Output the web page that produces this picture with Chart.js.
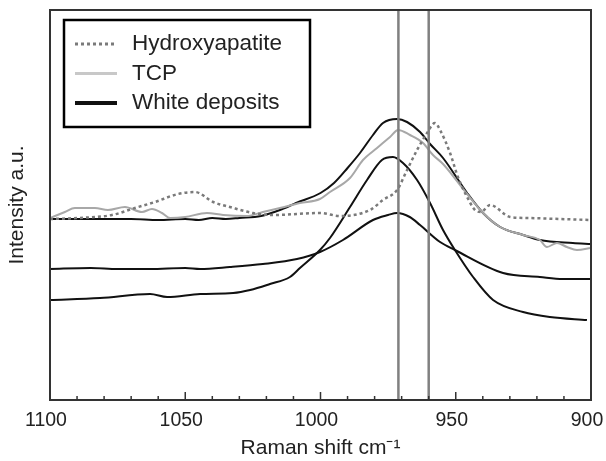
<!DOCTYPE html>
<html>
<head>
<meta charset="utf-8">
<script src="https://cdn.jsdelivr.net/npm/chart.js@4/dist/chart.umd.min.js"></script>
<style>
html,body{margin:0;padding:0;background:#fff;}
#wrap{width:606px;height:461px;}
</style>
</head>
<body>
<div id="wrap"><canvas id="c" width="606" height="461"></canvas></div>
<script>
// Raman shift (cm-1) and intensity (a.u.)
const hapX = [1100, 1089.6, 1077.1, 1068.6, 1061.2, 1052.7, 1046.4, 1039.7, 1033.5, 1025, 1017.6, 1000.2, 992.8, 981.7, 976.9, 971.7, 968, 964.3, 960.6, 957.7, 955.8, 952.1, 949.2, 945.8, 942.9, 940.7, 937.3, 929.9, 923.7, 900];
const hapY = [181, 182, 185, 192, 198, 206, 208, 198, 193, 187, 185, 187, 184, 190, 200, 210, 230, 250, 267, 277, 270, 247, 223, 203, 190, 188, 195, 183, 182, 180];

const tcpX = [1100, 1094.5, 1090.8, 1083.4, 1078.6, 1072.3, 1066, 1062.3, 1058.6, 1055.6, 1050, 1042, 1036, 1027.2, 1021.3, 1015, 1007.6, 1000.2, 996.5, 989.1, 984.3, 979.1, 974.3, 971.3, 966.9, 962.1, 958.4, 954.7, 945.8, 939.9, 933.6, 925.1, 918.9, 916.3, 912.6, 908.9, 905.2, 900];
const tcpY = [182, 188, 192, 192, 190, 193, 188, 191, 187, 182, 183, 187, 185, 184, 188, 192, 197, 201, 208, 222, 240, 252, 263, 270, 265, 257, 245, 236, 206, 187, 173, 165, 160, 153, 157, 153, 150, 152];

const wd1X = [1100, 1090, 1080, 1070, 1060, 1050, 1045, 1040, 1035, 1030, 1022, 1015, 1009, 1000, 995, 990, 985.4, 980.6, 976.9, 971.7, 968, 963.2, 959.5, 954.7, 945.8, 939.9, 933.6, 925.1, 918.9, 906.7, 900];
const wd1Y = [181, 181, 181, 181, 180, 181, 180, 182, 181, 182, 184, 190, 197, 207, 217, 232, 247, 265, 277, 281, 278, 268, 256, 242, 207, 187, 173, 165, 160, 157, 156];

const wd2X = [1100, 1085, 1075, 1063, 1050, 1044.5, 1033.5, 1021.3, 1008.7, 1000.2, 991.7, 980.6, 975, 971.7, 967, 963.2, 955.8, 950.3, 932.5, 918.9, 910.4, 900];
const wd2Y = [131, 132, 131, 131, 132, 131, 133, 136, 141, 148, 160, 180, 185, 187, 183, 175, 158, 150, 127, 123, 121, 121];

const wd3X = [1100, 1081.5, 1063, 1056.7, 1044.5, 1032.3, 1026, 1018.7, 1011.3, 1007.6, 1000.2, 996.5, 989.1, 982.8, 977.3, 973.2, 969.5, 964.3, 959.5, 954.7, 950.3, 943.6, 936.2, 925.1, 915.2, 901.5];
const wd3Y = [100, 102, 106, 103, 106, 107, 110, 116, 123, 132, 150, 162, 193, 220, 240, 243, 237, 220, 197, 170, 150, 123, 100, 88, 83, 80];

const markerX = [971.2, 960];
const xTickLabels = [1100, 1050, 1000, 950, 900];
const seriesNames = ['Hydroxyapatite', 'TCP', 'White deposits'];

const FONT = "'Liberation Sans', Arial, sans-serif";
const pts = (xs, ys) => xs.map((x, i) => ({x: x, y: ys[i]}));

const framePlugin = {
  id: 'frame',
  afterDatasetsDraw(chart) {
    const {ctx, chartArea: a, scales: {x}} = chart;
    ctx.save();
    // marker lines
    ctx.strokeStyle = '#808080';
    ctx.lineWidth = 2.5;
    markerX.forEach(v => {
      const px = x.getPixelForValue(v);
      ctx.beginPath(); ctx.moveTo(px, a.top); ctx.lineTo(px, a.bottom); ctx.stroke();
    });
    // frame
    ctx.strokeStyle = '#333';
    ctx.lineWidth = 2;
    ctx.strokeRect(a.left, a.top, a.right - a.left, a.bottom - a.top);
    // inside ticks
    ctx.lineWidth = 1.5;
    for (let v = x.min; v <= x.max; v += 10) {
      const px = x.getPixelForValue(v);
      const len = (v % 50 === 0) ? 8 : 4;
      ctx.beginPath(); ctx.moveTo(px, a.bottom); ctx.lineTo(px, a.bottom - len); ctx.stroke();
    }
    // legend
    const lx = a.left + 14, ly = a.top + 10, lw = 246, lh = 107;
    ctx.fillStyle = '#fff';
    ctx.fillRect(lx, ly, lw, lh);
    ctx.strokeStyle = '#000';
    ctx.lineWidth = 2.5;
    ctx.strokeRect(lx, ly, lw, lh);
    ctx.font = '22.5px ' + FONT;
    ctx.textBaseline = 'middle';
    ctx.textAlign = 'left';
    seriesNames.forEach((name, i) => {
      const ds = chart.data.datasets[i];
      const y = ly + 24 + i * 29.5;
      ctx.save();
      ctx.strokeStyle = i === 1 ? '#c8c8c8' : ds.borderColor;
      ctx.lineWidth = i === 2 ? 4 : 3;
      ctx.setLineDash(ds.borderDash || []);
      ctx.beginPath(); ctx.moveTo(lx + 11, y); ctx.lineTo(lx + 53, y); ctx.stroke();
      ctx.restore();
      ctx.fillStyle = '#222';
      ctx.fillText(name, lx + 68, y);
    });
    ctx.restore();
  }
};

const common = {pointRadius: 0, fill: false, cubicInterpolationMode: 'monotone'};
new Chart(document.getElementById('c'), {
  type: 'line',
  data: {
    datasets: [
      Object.assign({label: seriesNames[0], data: pts(hapX, hapY), borderColor: '#7a7a7a', borderWidth: 2.5, borderDash: [3, 3]}, common),
      Object.assign({label: seriesNames[1], data: pts(tcpX, tcpY), borderColor: '#a8a8a8', borderWidth: 2}, common),
      Object.assign({label: seriesNames[2], data: pts(wd1X, wd1Y), borderColor: '#111', borderWidth: 2}, common),
      Object.assign({label: seriesNames[2], data: pts(wd2X, wd2Y), borderColor: '#111', borderWidth: 2}, common),
      Object.assign({label: seriesNames[2], data: pts(wd3X, wd3Y), borderColor: '#111', borderWidth: 2}, common)
    ]
  },
  options: {
    responsive: false,
    animation: false,
    layout: {padding: {top: 10, right: 15, left: 0, bottom: 0}},
    plugins: {legend: {display: false}, tooltip: {enabled: false}},
    scales: {
      x: {
        type: 'linear', reverse: true, min: 900, max: 1100,
        afterBuildTicks: s => { s.ticks = xTickLabels.map(v => ({value: v})); },
        ticks: {color: '#222', font: {family: FONT, size: 19.5}, padding: 9, labelOffset: -4, maxRotation: 0, callback: v => String(v)},
        grid: {display: false, drawTicks: false},
        border: {display: false},
        title: {display: true, text: 'Raman shift cm\u207B\u00B9', color: '#222', font: {family: FONT, size: 21}, padding: {top: 0, bottom: 0}},
        afterFit: s => { s.height = 61; s.paddingLeft = 0; s.paddingRight = 0; }
      },
      y: {
        min: 0, max: 390,
        ticks: {display: false},
        grid: {display: false, drawTicks: false},
        border: {display: false},
        title: {display: true, text: 'Intensity a.u.', color: '#222', font: {family: FONT, size: 21}, padding: {top: 5, bottom: 0}},
        afterFit: s => { s.width = 50; }
      }
    }
  },
  plugins: [framePlugin]
});
</script>
</body>
</html>
